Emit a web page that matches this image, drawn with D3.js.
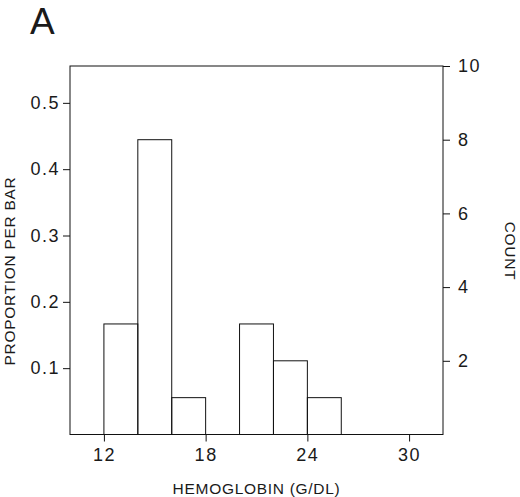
<!DOCTYPE html>
<html>
<head>
<meta charset="utf-8">
<script src="https://cdn.jsdelivr.net/npm/d3@7"></script>
<style>
  body { margin: 0; background: #fff; }
  svg text { font-family: "Liberation Sans", Arial, sans-serif; fill: #1a1a1a; }
  .tick text { font-size: 18px; letter-spacing: 1.5px; }
  .axis path, .axis line { stroke: #111; }
</style>
</head>
<body>
<svg class="hist" width="520" height="497"></svg>
<script>
// bins of hemoglobin, 2 g/dl wide
const binStarts = [12, 14, 16, 18, 20, 22, 24]
const binWidth = 2
const counts = [3, 8, 1, 0, 3, 2, 1]
const total = 18

const xTicks = [12, 18, 24, 30]
const propTicks = [0.1, 0.2, 0.3, 0.4, 0.5]
const countTicks = [2, 4, 6, 8, 10]

const svg = d3.select("svg.hist")

const plotL = 70, plotR = 443, plotT = 66, plotB = 434.5

var x = d3.scaleLinear().domain([10, 32]).range([plotL, plotR])
var yCount = d3.scaleLinear().domain([0, 10]).range([plotB, plotT])
var yProp = d3.scaleLinear().domain([0, 10 / total]).range([plotB, plotT])

// frame
svg.append("rect")
  .attr("x", plotL)
  .attr("y", plotT)
  .attr("width", plotR - plotL)
  .attr("height", plotB - plotT)
  .attr("fill", "none")
  .attr("stroke", "#111")

// bars
svg.selectAll("rect.bar")
  .data(binStarts.map((b, i) => ({ b: b, c: counts[i] })).filter(d => d.c > 0))
  .enter()
  .append("rect")
  .attr("class", "bar")
  .attr("x", d => x(d.b))
  .attr("y", d => yCount(d.c))
  .attr("width", d => x(d.b + binWidth) - x(d.b))
  .attr("height", d => plotB - yCount(d.c))
  .attr("fill", "none")
  .attr("stroke", "#111")

// axes
svg.append("g")
  .attr("class", "axis")
  .attr("transform", "translate(0," + plotB + ")")
  .call(d3.axisBottom(x).tickValues(xTicks).tickSize(7).tickSizeOuter(0).tickPadding(7))
  .call(g => g.select(".domain").remove())

svg.append("g")
  .attr("class", "axis")
  .attr("transform", "translate(" + plotL + ",0)")
  .call(d3.axisLeft(yProp).tickValues(propTicks).tickSize(7).tickPadding(3).tickFormat(d3.format(".1f")))
  .call(g => g.select(".domain").remove())

svg.append("g")
  .attr("class", "axis")
  .attr("transform", "translate(" + plotR + ",0)")
  .call(d3.axisRight(yCount).tickValues(countTicks).tickSize(7).tickPadding(8))
  .call(g => g.select(".domain").remove())

svg.selectAll(".tick text").attr("font-size", null).attr("font-family", null)

// titles
svg.append("text")
  .attr("x", 30)
  .attr("y", 33.5)
  .style("font-size", "37px")
  .text("A")

svg.append("text")
  .attr("x", (plotL + plotR) / 2)
  .attr("y", 494)
  .attr("text-anchor", "middle")
  .style("font-size", "15.5px")
  .style("letter-spacing", "0.7px")
  .text("HEMOGLOBIN (G/DL)")

svg.append("text")
  .attr("transform", "translate(15,271) rotate(-90)")
  .attr("text-anchor", "middle")
  .style("font-size", "15.5px")
  .style("letter-spacing", "0.7px")
  .text("PROPORTION PER BAR")

svg.append("text")
  .attr("transform", "translate(505,251) rotate(90)")
  .attr("text-anchor", "middle")
  .style("font-size", "15.5px")
  .style("letter-spacing", "0.7px")
  .text("COUNT")
</script>
</body>
</html>
